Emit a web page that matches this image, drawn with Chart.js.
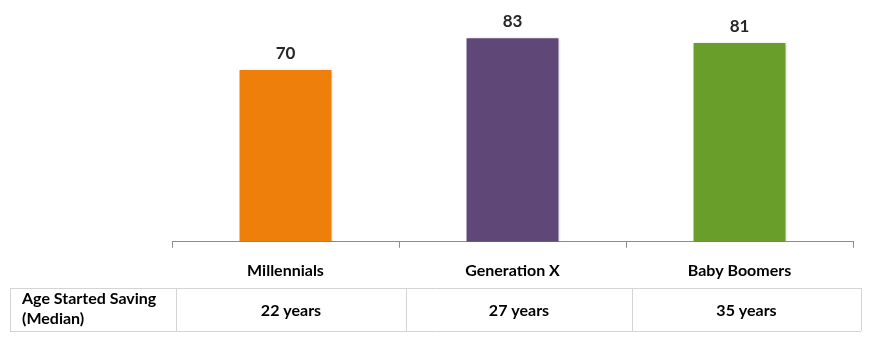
<!DOCTYPE html>
<html>
<head>
<meta charset="utf-8">
<script src="https://cdn.jsdelivr.net/npm/chart.js@4.4.0/dist/chart.umd.min.js"></script>
<style>
  html, body { margin: 0; padding: 0; background: #fff; }
</style>
</head>
<body>
<canvas id="ageChart" width="878" height="353"></canvas>
<script>
// data
const generaciones = ['Millennials', 'Generation X', 'Baby Boomers'];
const valores = [70, 83, 81];
const colores = ['#EF7F0B', '#5F4877', '#6A9E2A'];
const filaTitulo = ['Age Started Saving', '(Median)'];
const edadInicio = ['22 years', '27 years', '35 years'];

const fuente = 'Lato, "DejaVu Sans", sans-serif';

// sombra suave en las barras
const sombraBarras = {
  id: 'sombraBarras',
  beforeDatasetsDraw(chart) {
    const c = chart.ctx;
    c.save();
    c.shadowColor = 'rgba(0,0,0,0.28)';
    c.shadowBlur = 3;
    c.shadowOffsetX = 1;
    c.shadowOffsetY = 1;
  },
  afterDatasetsDraw(chart) {
    chart.ctx.restore();
  }
};

// etiquetas de valor encima de cada barra
const etiquetasValor = {
  id: 'etiquetasValor',
  afterDatasetsDraw(chart) {
    const c = chart.ctx;
    const meta = chart.getDatasetMeta(0);
    c.save();
    c.font = 'bold 17px ' + fuente;
    c.fillStyle = '#262626';
    c.textAlign = 'center';
    c.textBaseline = 'middle';
    meta.data.forEach((bar, i) => {
      c.fillText(valores[i], bar.x, bar.y - 17);
    });
    c.restore();
  }
};

// tabla debajo del eje
const tabla = {
  id: 'tabla',
  afterDraw(chart) {
    const c = chart.ctx;
    const arriba = 288, abajo = 331, izq = 10;
    const bordes = [176, 406, 632, 861];
    c.save();
    c.strokeStyle = '#D4D4D4';
    c.lineWidth = 1;
    c.beginPath();
    c.moveTo(izq, arriba + 0.5); c.lineTo(bordes[3], arriba + 0.5);
    c.moveTo(izq, abajo + 0.5); c.lineTo(bordes[3], abajo + 0.5);
    c.moveTo(izq + 0.5, arriba); c.lineTo(izq + 0.5, abajo);
    bordes.forEach(b => { c.moveTo(b + 0.5, arriba); c.lineTo(b + 0.5, abajo); });
    c.stroke();

    c.fillStyle = '#000';
    c.font = 'bold 16px ' + fuente;
    c.textBaseline = 'middle';
    c.textAlign = 'left';
    c.fillText(filaTitulo[0], 22, 299);
    c.fillText(filaTitulo[1], 22, 319);
    c.textAlign = 'center';
    edadInicio.forEach((t, i) => {
      c.fillText(t, (bordes[i] + bordes[i + 1]) / 2, 311);
    });
    c.restore();
  }
};

const ctx = document.getElementById('ageChart').getContext('2d');
new Chart(ctx, {
  type: 'bar',
  data: {
    labels: generaciones,
    datasets: [{
      data: valores,
      backgroundColor: colores,
      borderWidth: 0,
      barPercentage: 0.81,
      categoryPercentage: 0.5
    }]
  },
  options: {
    responsive: false,
    animation: false,
    devicePixelRatio: 1,
    layout: { padding: { left: 172, right: 25, top: 21, bottom: 60 } },
    plugins: {
      legend: { display: false },
      tooltip: { enabled: false }
    },
    scales: {
      y: { display: false, min: 0, max: 90 },
      x: {
        border: { display: true, color: '#8C8C8C', width: 1 },
        grid: {
          offset: true,
          drawOnChartArea: false,
          drawTicks: true,
          tickLength: 6,
          color: '#8C8C8C'
        },
        ticks: {
          color: '#000',
          padding: 13,
          font: { family: fuente, size: 16, weight: 'bold' }
        }
      }
    }
  },
  plugins: [sombraBarras, etiquetasValor, tabla]
});
</script>
</body>
</html>
